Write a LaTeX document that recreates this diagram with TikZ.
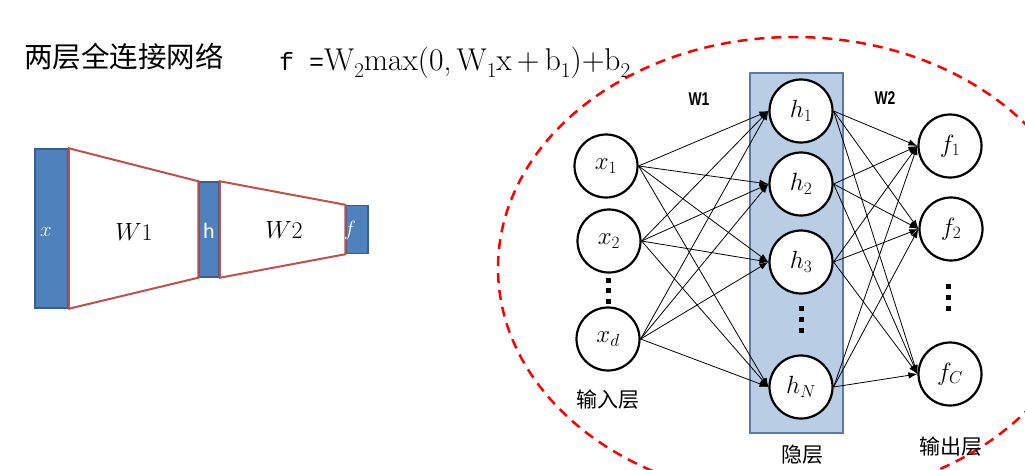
\documentclass[tikz,border=0pt]{standalone}
\usepackage{fontspec}
\usetikzlibrary{arrows.meta}
\newfontfamily\cjk{Noto Sans CJK SC}
\newfontfamily\lsans{Liberation Sans}
\newfontfamily\lmono{Liberation Mono}
\newfontfamily\carl{Carlito}
\definecolor{barblue}{HTML}{4F81BD}
\definecolor{baredge}{HTML}{3A5F8E}
\definecolor{trapred}{HTML}{C0504D}
\definecolor{hidfill}{HTML}{B9CDE5}
\definecolor{hidedge}{HTML}{5A7BA6}
\newcommand{\sbx}[1]{\raisebox{-0.24em}{\fontsize{21}{24}\selectfont #1}}
\tikzset{
  bar/.style={rectangle, draw=baredge, fill=barblue, line width=1.5pt, inner sep=0pt, text=white},
  trap/.style={draw=trapred, fill=white, line width=2pt, line join=miter},
  neuron/.style={circle, draw=black, fill=white, line width=2.2pt, minimum size=63pt, inner sep=0pt, font=\fontsize{27}{30}\selectfont},
  hidrect/.style={rectangle, draw=hidedge, fill=hidfill, line width=1.8pt, inner sep=0pt},
  edge/.style={line width=0.8pt, -{Latex[length=9pt,width=6.5pt]}},
  cjklab/.style={font=\cjk\fontsize{21}{24}\selectfont, inner sep=0pt},
  wlab/.style={font=\lsans\bfseries\fontsize{18.5}{20}\selectfont, xscale=0.75, inner sep=0pt},
  dotsq/.style={fill=black}
}
\begin{document}
\begin{tikzpicture}[x=1pt,y=-1pt]
\useasboundingbox (0,0) rectangle (1025,469);
% title
\node[font=\cjk\fontsize{28.5}{30}\selectfont, anchor=west, inner sep=0pt] (title) at (24,57) {两层全连接网络};
\node[anchor=base west, inner sep=0pt, font=\fontsize{31.5}{36}\selectfont] (formula) at (279,70)
  {{\lmono\fontsize{25}{30}\selectfont f =}W\sbx{2}max(0,\,W\sbx{1}x\,+\,b\sbx{1})+b\sbx{2}};
% left block diagram
\node[bar, minimum width=33pt, minimum height=159pt] (xb) at (51.5,228.5) {};
\node[bar, minimum width=20pt, minimum height=95pt] (hb) at (209,229.5) {};
\node[bar, minimum width=22pt, minimum height=48pt] (fb) at (357,229.5) {};
\draw[trap] (xb.north east) -- (hb.north west) -- (hb.south west) -- (xb.south east) -- cycle;
\draw[trap] (hb.north east) -- (fb.north west) -- (fb.south west) -- (hb.south east) -- cycle;
\node[text=white, font=\fontsize{22}{24}\selectfont] (xt) at (46,232) {$x$};
\node[text=white, font=\carl\fontsize{22}{24}\selectfont] (ht) at (209,231) {h};
\node[text=white, font=\fontsize{22}{24}\selectfont] (ft) at (350,230) {$f$};
\node[font=\fontsize{24}{26}\selectfont] (w1l) at (134,232) {$W$1};
\node[font=\fontsize{24}{26}\selectfont] (w2l) at (284,230) {$W$2};
% dashed ellipse
\draw[red, line width=2.5pt, dash pattern=on 10pt off 7pt] (794,268) ellipse [x radius=296, y radius=231];
% hidden layer rectangle
\node[hidrect, minimum width=93pt, minimum height=360pt] (hid) at (796.5,253) {};
% neurons
\node[neuron] (x1) at (606,166) {$x_1$};
\node[neuron] (x2) at (609,241) {$x_2$};
\node[neuron] (xd) at (608,339) {$x_d$};
\node[neuron] (h1) at (801,111) {$h_1$};
\node[neuron] (h2) at (801,184) {$h_2$};
\node[neuron] (h3) at (801,262) {$h_3$};
\node[neuron] (hN) at (801,387) {$h_N$};
\node[neuron] (f1) at (950,146) {$f_1$};
\node[neuron] (f2) at (951,229) {$f_2$};
\node[neuron] (fC) at (950,374) {$f_C$};
% edges
\foreach \i in {x1,x2,xd}{
  \foreach \j in {h1,h2,h3,hN}{
    \draw[edge] (\i.east) -- (\j.west);
  }
}
\foreach \i in {h1,h2,h3,hN}{
  \foreach \j in {f1,f2,fC}{
    \draw[edge] (\i.east) -- (\j.west);
  }
}
% dots
\foreach \yy in {280,290.5,301}{ \fill[dotsq] (605.5,\yy-2.5) rectangle (610.5,\yy+2.5); }
\foreach \yy in {308,319,330}{ \fill[dotsq] (798.5,\yy-2.5) rectangle (803.5,\yy+2.5); }
\foreach \yy in {286,297,308}{ \fill[dotsq] (945.5,\yy-2.5) rectangle (950.5,\yy+2.5); }
% labels
\node[wlab] (W1) at (699,99) {W1};
\node[wlab] (W2) at (885,98) {W2};
\node[cjklab] (inl) at (608,400) {输入层};
\node[cjklab] (hidl) at (802,455) {隐层};
\node[cjklab] (outl) at (951,447) {输出层};
\end{tikzpicture}
\end{document}
